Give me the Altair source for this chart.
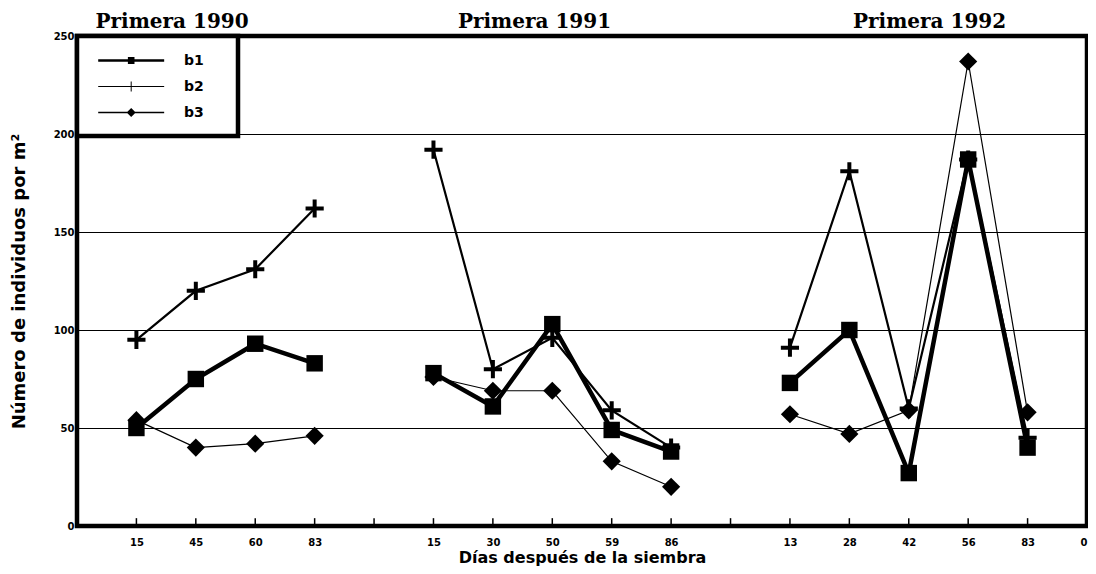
import json
import altair as alt
import pandas as pd

# ---------------- data ----------------
series = ["b1", "b2", "b3"]
seasons = ["Primera 1990", "Primera 1991", "Primera 1992"]

days_1990 = [15, 45, 60, 83]
days_1991 = [15, 30, 50, 59, 86]
days_1992 = [13, 28, 42, 56, 83]

b1_1990 = [50, 75, 93, 83]
b2_1990 = [95, 120, 131, 162]
b3_1990 = [54, 40, 42, 46]

b1_1991 = [78, 61, 103, 49, 38]
b2_1991 = [192, 80, 96, 59, 40]
b3_1991 = [76, 69, 69, 33, 20]

b1_1992 = [73, 100, 27, 187, 40]
b2_1992 = [91, 181, 60, 187, 45]
b3_1992 = [57, 47, 59, 237, 58]

season_title_slot = [1.6, 7.7, 14.35]
y_ticks = [0, 50, 100, 150, 200, 250]

# ---------------- build table ----------------
groups = [
    (seasons[0], days_1990, [b1_1990, b2_1990, b3_1990]),
    (seasons[1], days_1991, [b1_1991, b2_1991, b3_1991]),
    (seasons[2], days_1992, [b1_1992, b2_1992, b3_1992]),
]
rows = []
slot_labels = [""]
start = 1
for season, days, vals in groups:
    for i, d in enumerate(days):
        for k, s in enumerate(series):
            rows.append({"season": season, "slot": start + i, "day": d,
                         "series": s, "value": vals[k][i]})
    slot_labels += [str(d) for d in days] + [""]
    start += len(days) + 1
slot_labels[-1] = "0"
n_slots = len(slot_labels) - 1
df = pd.DataFrame(rows)

titles_df = pd.DataFrame({"season": seasons, "tx": season_title_slot})
ticks_df = pd.DataFrame({"slot": list(range(1, n_slots)), "value": 0, "y1": 4})

FONT = "DejaVu Sans"

x_scale = alt.Scale(domain=[0, n_slots], nice=False, zero=False)
y_scale = alt.Scale(domain=[0, 250], nice=False)

x_axis = alt.Axis(
    values=list(range(0, n_slots + 1)),
    labelExpr=json.dumps(slot_labels) + "[datum.value]",
    title="Días después de la siembra",
    grid=False, domain=False, ticks=False,
    labelPadding=11, labelFont=FONT, labelFontSize=10, labelFontWeight="bold",
    labelColor="black", labelFlush=True, labelOverlap=False,
    titleFont=FONT, titleFontSize=16, titleFontWeight="bold", titleColor="black",
    titleY=31, titleBaseline="middle",
)
y_axis = alt.Axis(
    values=y_ticks, grid=True, gridColor="black", gridWidth=1, gridOpacity=1,
    domain=False, ticks=False, labelPadding=3,
    labelFont=FONT, labelFontSize=10, labelFontWeight="bold", labelColor="black",
    title="Número de individuos por m²",
    titleFont=FONT, titleFontSize=18, titleFontWeight="bold", titleColor="black",
    titleX=-58, titleY=245, titleBaseline="middle", titleAngle=-90,
)
x_enc = alt.X("slot:Q", scale=x_scale, axis=x_axis)
y_enc = alt.Y("value:Q", scale=y_scale, axis=y_axis)

base = alt.Chart(df)

line_w = {"b1": 4.5, "b2": 2.2, "b3": 1.2}
lines = [
    base.transform_filter(alt.datum.series == s)
    .mark_line(color="black", strokeWidth=line_w[s])
    .encode(x=x_enc, y=y_enc, detail="season:N", order="slot:Q")
    for s in ["b3", "b2", "b1"]
]

plus_path = "M-1,-0.22H1V0.22H-1Z M-0.22,-1H0.22V1H-0.22Z"
points = base.mark_point(filled=True, color="black", opacity=1).encode(
    x=x_enc, y=y_enc,
    shape=alt.Shape("series:N", scale=alt.Scale(domain=series,
                    range=["square", plus_path, "diamond"]), legend=None),
    size=alt.Size("series:N", scale=alt.Scale(type="ordinal", domain=series,
                  range=[270, 330, 330]), legend=None),
    order=alt.Order("series:N", sort="descending"),
)

# legend symbols: a thin filled bar (the line) with a small marker;
# a hair-thin far-right sliver widens the legend box like the original
legend_paths = [
    "M-0.4,-0.16H7.6V0.16H-0.4Z M3.2,-0.42H4V0.42H3.2Z M14.6,-0.01H14.61V0.01H14.6Z",
    "M-0.4,-0.06H7.6V0.06H-0.4Z M3.54,-0.6H3.66V0.6H3.54Z",
    "M-0.4,-0.09H7.6V0.09H-0.4Z M3.05,0L3.6,-0.55L4.15,0L3.6,0.55Z",
]
leg = alt.Legend(
    title=None, orient="top-left", offset=0, padding=16,
    strokeColor="black", fillColor="white",
    symbolSize=272, symbolOpacity=1, symbolFillColor="black",
    symbolStrokeWidth=0, rowPadding=10,
    labelFont=FONT, labelFontSize=14, labelFontWeight="bold", labelColor="black",
    labelOffset=74,
)
legend_layer = base.mark_point(filled=True, color="black", opacity=0).encode(
    x=x_enc, y=y_enc,
    shape=alt.Shape("series:N", scale=alt.Scale(domain=series, range=legend_paths),
                    legend=leg),
)

season_titles = alt.Chart(titles_df).mark_text(
    font="DejaVu Serif", fontSize=20, fontWeight="bold", color="black",
    baseline="alphabetic", align="center",
).encode(x=alt.X("tx:Q", scale=x_scale, axis=x_axis), y=alt.value(-8),
         text="season:N")

tick_rules = alt.Chart(ticks_df).mark_rule(color="black", strokeWidth=1.5).encode(
    x=x_enc, y=y_enc, y2="y1:Q",
)

chart = (
    alt.layer(*lines, points, legend_layer, tick_rules, season_titles)
    .resolve_scale(shape="independent", size="independent")
    .properties(width=1010, height=490,
                padding={"left": 69, "top": 28, "right": 1, "bottom": 40},
                autosize=alt.AutoSizeParams(type="none"),
                background="white")
    .configure_view(stroke="black", strokeWidth=4.5)
    .configure_legend(strokeWidth=4.5)
)

chart.save("out.html", embed_options={"renderer": "svg", "actions": False})
